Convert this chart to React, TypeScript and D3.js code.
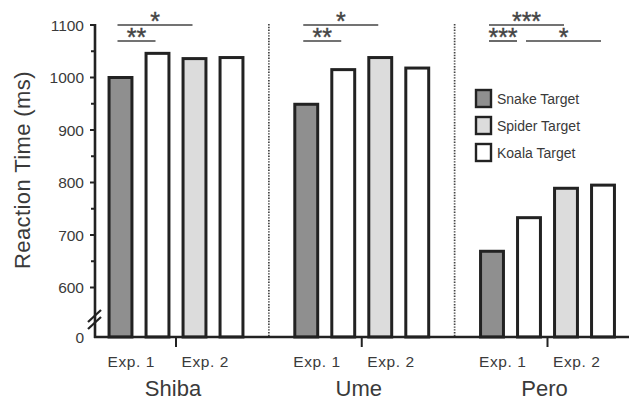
import React from 'react';
import * as d3 from 'd3';

// ---- data ----
const groups = ['Shiba', 'Ume', 'Pero'];
const barTypes = ['snake', 'koala', 'spider', 'koala'];
const expLabels = ['Exp. 1', 'Exp. 2'];
const shibaValues = [1000, 1046, 1036, 1038];
const umeValues = [949, 1015, 1038, 1018];
const peroValues = [669, 733, 789, 795];
const groupValues = [shibaValues, umeValues, peroValues];

const legendLabels = ['Snake Target', 'Spider Target', 'Koala Target'];
const legendTypes = ['snake', 'spider', 'koala'];

const yMajorTicks = [0, 600, 700, 800, 900, 1000, 1100];
const yMinorTicks = [650, 750, 850, 950, 1050];

const sigGroup = ['Shiba', 'Shiba', 'Ume', 'Ume', 'Pero', 'Pero', 'Pero'];
const sigFrom = [0, 0, 0, 0, 0, 0, 1];
const sigTo = [2, 1, 2, 1, 2, 1, 3];
const sigRow = [0, 1, 0, 1, 0, 1, 1];
const sigLabel = ['*', '**', '*', '**', '***', '***', '*'];

// ---- styles ----
const W = 629;
const H = 402;
const fills: Record<string, string> = { snake: '#8f8f8f', spider: '#dcdcdc', koala: '#ffffff' };
const ink = '#222';
const txt = '#3a3a3a';
const font = '"Liberation Sans", Arial, Helvetica, sans-serif';

export default function App() {
  const y = d3.scaleLinear().domain([0, 600, 1100]).range([337, 287.5, 25]);
  const gx = d3.scalePoint<string>().domain(groups).range([176, 547.5]);
  const bx = d3.scaleBand<number>().domain([0, 1, 2, 3]).range([-74, 74]).paddingInner(0.3).paddingOuter(0.15);
  const axisX = 95;
  const base = y(0);
  const rowY = [25, 41];
  const sw = 3;

  const barCenter = (g: string, i: number) => (gx(g) as number) + (bx(i) as number) + bx.bandwidth() / 2;

  return (
    <svg width={W} height={H} style={{ position: 'absolute', left: 0, top: 0, background: '#fff' }} fontFamily={font}>
      <rect x={0} y={0} width={W} height={H} fill="#fff" />
      {/* dividers */}
      {groups.slice(1).map((g, i) => {
        const xm = ((gx(groups[i]) as number) + (gx(g) as number)) / 2;
        return <line key={g} x1={xm} x2={xm} y1={24} y2={base} stroke="#444" strokeWidth={1.7} strokeDasharray="1.4,1.4" />;
      })}
      {/* bars */}
      {groups.map((g, gi) =>
        groupValues[gi].map((v, i) => (
          <rect
            key={g + i}
            x={(gx(g) as number) + (bx(i) as number) + sw / 2}
            y={y(v)}
            width={bx.bandwidth() - sw}
            height={base - y(v)}
            fill={fills[barTypes[i]]}
            stroke={ink}
            strokeWidth={sw}
          />
        ))
      )}
      {/* y axis */}
      <line x1={axisX} x2={axisX} y1={y(1100) - 1} y2={base + 1} stroke={ink} strokeWidth={2.6} />
      {yMajorTicks.map((t) => (
        <g key={t}>
          {t !== 0 && <line x1={axisX - 5} x2={axisX} y1={y(t)} y2={y(t)} stroke={ink} strokeWidth={2} />}
          <text x={84} y={y(t) + 5.5} textAnchor="end" fontSize={15.5} fill={txt}>
            {t}
          </text>
        </g>
      ))}
      {yMinorTicks.map((t) => (
        <line key={t} x1={axisX - 4} x2={axisX} y1={y(t)} y2={y(t)} stroke={ink} strokeWidth={2} />
      ))}
      {/* axis break */}
      {[0, 7].map((d) => (
        <line key={d} x1={axisX - 7} x2={axisX + 6} y1={322 + d} y2={310 + d} stroke={ink} strokeWidth={2.2} />
      ))}
      {/* x axis */}
      <line x1={axisX - 1} x2={W} y1={base} y2={base} stroke={ink} strokeWidth={2.6} />
      {groups.map((g) => (
        <g key={g}>
          <line x1={gx(g)} x2={gx(g)} y1={base} y2={base + 10} stroke={ink} strokeWidth={2} />
          {expLabels.map((l, k) => (
            <text key={l} x={(gx(g) as number) + (bx(k * 2) as number)} y={367} fontSize={15.5} fill={txt} letterSpacing={0.6}>
              {l}
            </text>
          ))}
          <text x={(gx(g) as number) - 3} y={396} textAnchor="middle" fontSize={22} fill={txt}>
            {g}
          </text>
        </g>
      ))}
      {/* y title */}
      <text transform="translate(30,170) rotate(-90)" textAnchor="middle" fontSize={22} fill={txt} letterSpacing={0.4}>
        Reaction Time (ms)
      </text>
      {/* significance */}
      {sigLabel.map((s, i) => {
        const g = sigGroup[i];
        const x1 = barCenter(g, sigFrom[i]) - 3;
        let x2 = barCenter(g, sigTo[i]) - 2;
        const startsHere = sigGroup.some((g2, j) => j !== i && g2 === g && sigRow[j] === sigRow[i] && sigFrom[j] === sigTo[i]);
        if (startsHere) x2 -= 10;
        const yy = rowY[sigRow[i]];
        return (
          <g key={i}>
            <line x1={x1} x2={x2} y1={yy} y2={yy} stroke="#444" strokeWidth={1.6} />
            <text x={(x1 + x2) / 2} y={yy + 5} textAnchor="middle" fontSize={25} fill="#444" stroke="#444" strokeWidth={0.4}>
              {s}
            </text>
          </g>
        );
      })}
      {/* legend */}
      {legendLabels.map((l, i) => (
        <g key={l} transform={`translate(476,${90 + i * 27})`}>
          <rect x={0} y={0} width={15} height={17} fill={fills[legendTypes[i]]} stroke={ink} strokeWidth={2.4} />
          <text x={21} y={13.5} fontSize={14} fill={txt}>
            {l}
          </text>
        </g>
      ))}
    </svg>
  );
}
